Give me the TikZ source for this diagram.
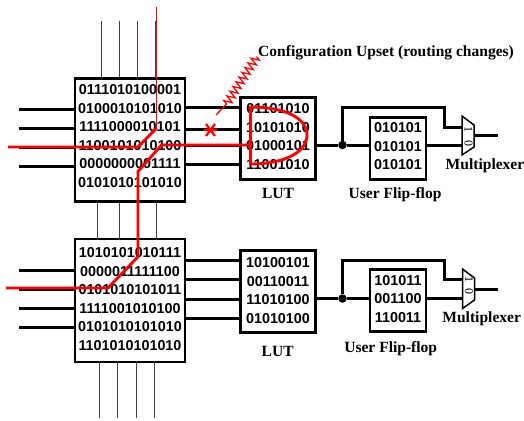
\documentclass[tikz,border=0pt]{standalone}
\usepackage{fontspec}
\setmainfont{Liberation Serif}
\setsansfont{Liberation Sans}
\usetikzlibrary{decorations.pathmorphing,calc}
\tikzset{
  x=1bp,y=-1bp,
  cell/.style={draw=black,line width=2.6bp,fill=none,inner sep=0pt},
  bits/.style={inner sep=0pt,align=center,font=\sffamily\bfseries\fontsize{14.4}{18.6}\selectfont},
  sw/.style={cell,minimum width=110bp,minimum height=123bp},
  lutbox/.style={cell,minimum width=74.5bp,minimum height=82.5bp},
  ffbox/.style={cell,minimum width=56bp,minimum height=62.5bp},
  wire/.style={line width=3bp,black},
  stub/.style={line width=3bp,black},
  thinw/.style={line width=1bp,black!75},
  upset/.style={red,line width=2.9bp,line join=round},
  upsetthin/.style={red,line width=1.3bp},
  lab/.style={font=\rmfamily\bfseries\fontsize{15.6}{16}\selectfont,inner sep=0pt},
  muxbit/.style={font=\rmfamily\fontsize{12}{12}\selectfont,inner sep=0pt,rotate=-90},
  junction/.style={circle,fill=black,inner sep=0pt,minimum size=8.5bp},
  muxshape/.style={draw=black,line width=1.5bp,line join=miter}
}
\begin{document}
\begin{tikzpicture}
\useasboundingbox (0,0) rectangle (524,420);
\fill[white] (0,0) rectangle (524,420);
% boxes
\node[sw] (sa) at (130,140) {};
\node[sw] (sb) at (130,300.5) {};
\node[lutbox] (la) at (278,138.5) {};
\node[lutbox] (lb) at (278,291.5) {};
\node[ffbox] (fa) at (398,148.5) {};
\node[ffbox] (fb) at (398,300.5) {};
% bit patterns
\node[bits] (sat) at (130,136) {0111010100001\\0100010101010\\1111000010101\\1100101010100\\0000000001111\\0101010101010};
\node[bits] (sbt) at (130,299) {1010101010111\\0000011111100\\0101010101011\\1111001010100\\0101010101010\\1101010101010};
\node[bits] (lat) at (278,136.5) {01101010\\10101010\\01000101\\11001010};
\node[bits] (lbt) at (278,290.5) {10100101\\00110011\\11010100\\01010100};
\node[bits] (fat) at (398,146.5) {010101\\010101\\010101};
\node[bits] (fbt) at (398,299) {101011\\001100\\110011};
\node[junction] (da) at (342.5,145) {};
\node[junction] (db) at (342.5,298.5) {};
\coordinate (ma) at (462,145);
\coordinate (mai) at (462,127);
\coordinate (mao) at (474,135.5);
\coordinate (mb) at (462,298.5);
\coordinate (mbi) at (462,279);
\coordinate (mbo) at (474.5,289);
\coordinate (ea) at (498,135.5);
\coordinate (eb) at (498,289);
% vertical thin wires
\foreach \x in {101,119,137,155} \draw[thinw] (\x,21) -- (\x,78);
\foreach \x in {97,119,138,156} \draw[thinw] (\x,202) -- (\x,240);
\foreach \x in {99,117.5,136,154.5} \draw[thinw] (\x,361) -- (\x,418);
% left stubs
\foreach \y in {109,128,147,166} \draw[stub] (19,\y) -- (sa.west |- 0,\y);
\foreach \y in {270,289,308,327} \draw[stub] (19,\y) -- (sb.west |- 0,\y);
% between switch box and LUT
\foreach \y in {107,129.5,145,164.5} \draw[wire] (sa.east |- 0,\y) -- (la.west |- 0,\y);
\foreach \y in {260,279.5,299,318} \draw[wire] (sb.east |- 0,\y) -- (lb.west |- 0,\y);
% LUT to FF to mux
\draw[wire] (la.east |- da) -- (da) -- (fa.west |- da);
\draw[wire] (fa.east |- ma) -- (ma);
\draw[wire] (da) -- (342.5,107) -- (444,107) -- (444,127) -- (mai);
\draw[wire] (lb.east |- db) -- (db) -- (fb.west |- db);
\draw[wire] (fb.east |- mb) -- (mb);
\draw[wire] (db) -- (342.5,260.7) -- (444,260.7) -- (444,279) -- (mbi);
\draw[wire] (mao) -- (ea);
\draw[wire] (mbo) -- (eb);
% muxes
\draw[muxshape] (462,116) -- (474,125) -- (474,147) -- (462,155) -- cycle;
\node[muxbit] at (468.5,129) {1};
\node[muxbit] at (468.5,143) {0};
\draw[muxshape] (462.5,269) -- (474.5,278) -- (474.5,300) -- (462.5,308.5) -- cycle;
\node[muxbit] at (469,279) {1};
\node[muxbit] at (469,291) {0};
% labels
\node[lab] (t1) at (278,193) {LUT};
\node[lab] (t2) at (395,195) {User Flip-flop};
\node[lab] (t3) at (485,166) {Multiplexer};
\node[lab] (t4) at (277.7,351.7) {LUT};
\node[lab] (t5) at (390.7,349) {User Flip-flop};
\node[lab] (t6) at (481.7,319) {Multiplexer};
\node[lab,anchor=west] (t7) at (258,53) {Configuration Upset (routing changes)};
% red paths
\draw[upset] (8,147) -- (138,147) -- (156.7,128);
\draw[upsetthin] (156.7,128) -- (156.7,7);
\draw[upset] (250.5,145) -- (161.5,145) -- (138,171.5) -- (138,256.7) -- (108,288) -- (6,288);
\draw[upset] (250.5,107) .. controls (285,107) and (307,118) .. (307,135) .. controls (307,152) and (285,164) .. (250.5,164) -- cycle;
% upset marker
\draw[upsetthin] (216,115) -- (226.5,104);
\draw[upsetthin,decorate,decoration={zigzag,segment length=5.6bp,amplitude=4bp}] (226.5,104) -- (256.7,56.7);
\draw[red,line width=2.2bp] (203.5,130) -- (217,130) (206,124) -- (215,136) (215,124) -- (206,136);
\end{tikzpicture}
\end{document}
